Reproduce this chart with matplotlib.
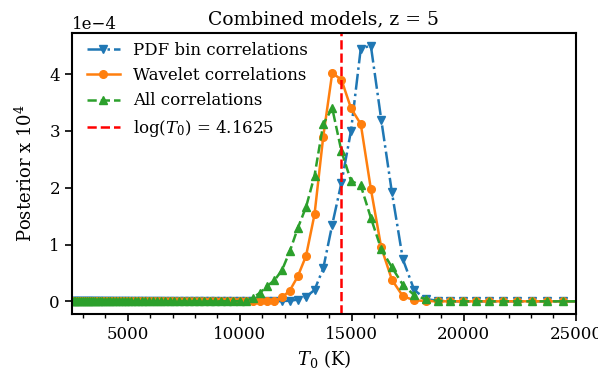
import numpy as np
import matplotlib
matplotlib.use("Agg")
import matplotlib.pyplot as plt
from matplotlib.ticker import MultipleLocator

plt.rcParams['font.family'] = ['DejaVu Serif']
plt.rcParams['mathtext.fontset'] = 'dejavuserif'

# log10(T0) grid of the posterior
log_T = np.round(np.arange(3.4, 4.4001, 0.0125), 4)
n = len(log_T)

# posterior values (units of 1e-4), indices 46..70 non-zero, rest zero
pdf_nz = {54: 0.005, 55: 0.01, 56: 0.03, 57: 0.08, 58: 0.2, 59: 0.58, 60: 1.35,
          61: 2.09, 62: 3.0, 63: 4.45, 64: 4.5, 65: 3.2, 66: 1.92, 67: 0.74,
          68: 0.2, 69: 0.04, 70: 0.01}
wav_nz = {51: 0.002, 52: 0.005, 53: 0.01, 54: 0.07, 55: 0.19, 56: 0.44, 57: 0.8,
          58: 1.53, 59: 2.9, 60: 4.02, 61: 3.9, 62: 3.40, 63: 3.12, 64: 1.98,
          65: 0.95, 66: 0.38, 67: 0.09, 68: 0.02, 69: 0.005}
all_nz = {46: 0.001, 47: 0.002, 48: 0.005, 49: 0.01, 50: 0.065, 51: 0.15,
          52: 0.27, 53: 0.37, 54: 0.55, 55: 0.88, 56: 1.29, 57: 1.66, 58: 2.21,
          59: 3.12, 60: 3.40, 61: 2.64, 62: 2.12, 63: 2.04, 64: 1.47, 65: 0.92,
          66: 0.60, 67: 0.29, 68: 0.11, 69: 0.035, 70: 0.01}

pdf_post = [pdf_nz.get(i, 0.0) for i in range(n)]
wav_post = [wav_nz.get(i, 0.0) for i in range(n)]
all_post = [all_nz.get(i, 0.0) for i in range(n)]

best_logT = 4.1625

T = 10 ** log_T
scale = 1e-4

fig = plt.figure(figsize=(5.98, 3.78), dpi=100)
ax = fig.add_axes([0.120, 0.169, 0.843, 0.744])

ax.plot(T, np.array(pdf_post) * scale, '-.', marker='v', color='#1f77b4',
        lw=1.8, ms=5.5, label='PDF bin correlations')
ax.plot(T, np.array(wav_post) * scale, '-', marker='o', color='#ff7f0e',
        lw=1.8, ms=5.5, label='Wavelet correlations')
ax.plot(T, np.array(all_post) * scale, '--', marker='^', color='#2ca02c',
        lw=1.8, ms=5.5, label='All correlations')
ax.axvline(10 ** best_logT, color='red', ls='--', lw=1.8,
           label=r'log($T_0$) = 4.1625')

ax.set_xlim(2500, 25000)
ax.xaxis.set_major_locator(MultipleLocator(5000))
ax.xaxis.set_minor_locator(MultipleLocator(1000))
ax.yaxis.set_major_locator(MultipleLocator(1e-4))
ax.ticklabel_format(axis='y', style='sci', scilimits=(0, 0))

for s in ax.spines.values():
    s.set_linewidth(1.5)
ax.tick_params(which='major', direction='out', length=5, width=1.2, labelsize=12)
ax.tick_params(which='minor', direction='out', length=3, width=1.0)
ax.yaxis.get_offset_text().set_fontsize(12)

ax.set_xlabel(r'$T_0$ (K)', fontsize=13)
ax.set_ylabel(r'Posterior x $10^4$', fontsize=13, labelpad=10)
ax.set_title('Combined models, z = 5', fontsize=13.5)

ax.legend(loc='upper left', bbox_to_anchor=(0.0, 1.022), frameon=False,
          fontsize=12, handlelength=2.0)

fig.savefig('out.png', dpi=100)
